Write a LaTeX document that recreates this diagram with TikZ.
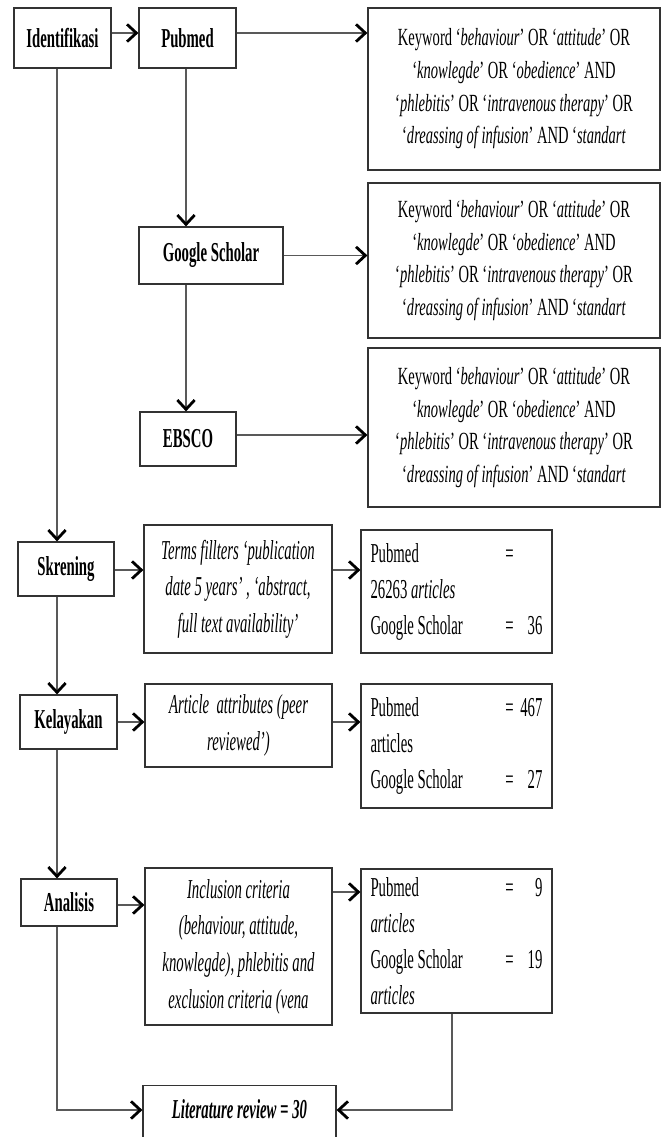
\documentclass[tikz,border=0pt]{standalone}
\usepackage{fontspec}
\setmainfont{Liberation Serif}[FakeStretch=0.54]
\newfontfamily\kwfont{Liberation Serif}[FakeStretch=0.59]
\usetikzlibrary{arrows.meta,calc}
\newcommand{\resline}[2]{\makebox[100.25pt][l]{#1}\makebox[8pt]{=}\hfill #2}
\begin{document}
\begin{tikzpicture}[x=0.75pt,y=-0.75pt,
  box/.style={draw=black!80, line width=0.9pt, inner sep=0pt, align=flush center},
  lbl/.style={box, font=\fontsize{20.5}{24}\selectfont\bfseries},
  kw/.style={box, font=\kwfont\fontsize{18.5}{24.5}\selectfont, minimum width=219pt},
  crit/.style={box, font=\fontsize{20.5}{27.5}\selectfont\itshape, minimum width=140.25pt},
  res/.style={box, font=\fontsize{20.5}{27}\selectfont, minimum width=143.25pt, text width=129pt, align=flush left},
  ln/.style={draw=black!65, line width=0.9pt},
  arr/.style={ln, -{Straight Barb[length=7pt,width=13pt,line width=2.1pt,color=black]}}]
\useasboundingbox (0,0) rectangle (664,1137);

% left column
\node[lbl, minimum width=72.75pt, minimum height=45pt] (iden) at (62.5,38) {Identifikasi};
\node[lbl, minimum width=72pt, minimum height=40.5pt] (skr) at (66,569) {Skrening};
\node[lbl, minimum width=72.75pt, minimum height=40.5pt] (kel) at (68.5,722) {Kelayakan};
\node[lbl, minimum width=72pt, minimum height=35.25pt] (ana) at (69,902.5) {Analisis};

% databases
\node[lbl, minimum width=72.75pt, minimum height=45pt] (pub) at (187.5,38) {Pubmed};
\node[lbl, minimum width=108pt, minimum height=42.75pt] (gs) at (211,255.5) {Google Scholar};
\node[lbl, minimum width=72pt, minimum height=40.5pt] (eb) at (188,439) {EBSCO};

% keyword boxes
\node[kw, minimum height=121.5pt] (kw1) at (514,89) {Keyword ‘\textit{behaviour}’ OR ‘\textit{attitude}’ OR\\ ‘\textit{knowlegde}’ OR ‘\textit{obedience}’ AND\\ ‘\textit{phlebitis}’ OR ‘\textit{intravenous therapy}’ OR\\ ‘\textit{dreassing of infusion}’ AND ‘\textit{standart}};
\node[kw, minimum height=116.25pt] (kw2) at (514,260.5) {Keyword ‘\textit{behaviour}’ OR ‘\textit{attitude}’ OR\\ ‘\textit{knowlegde}’ OR ‘\textit{obedience}’ AND\\ ‘\textit{phlebitis}’ OR ‘\textit{intravenous therapy}’ OR\\ ‘\textit{dreassing of infusion}’ AND ‘\textit{standart}};
\node[kw, minimum height=119.25pt] (kw3) at (514,427.5) {Keyword ‘\textit{behaviour}’ OR ‘\textit{attitude}’ OR\\ ‘\textit{knowlegde}’ OR ‘\textit{obedience}’ AND\\ ‘\textit{phlebitis}’ OR ‘\textit{intravenous therapy}’ OR\\ ‘\textit{dreassing of infusion}’ AND ‘\textit{standart}};

% criteria
\node[crit, minimum width=141pt, minimum height=96pt] (terms) at (238,589) {Terms fillters ‘publication\\ date 5 years’ , ‘abstract,\\ full text availability’};
\node[crit, minimum height=62.25pt] (art) at (238.5,725.5) {Article\ \ attributes (peer\\ reviewed’)};
\node[crit, minimum height=117.75pt] (inc) at (238.5,946.5) {Inclusion criteria\\ (behaviour, attitude,\\ knowlegde), phlebitis and\\ exclusion criteria (vena};

% results
\node[res, minimum height=92.25pt] (res1) at (456.5,591.5) {\resline{Pubmed}{}\\ 26263 \textit{articles}\\ \resline{Google Scholar}{36}};
\node[res, minimum height=93pt] (res2) at (456.5,746) {\resline{Pubmed}{467}\\ articles\\ \resline{Google Scholar}{27}};
\node[res, minimum height=108pt] (res3) at (456.5,941) {\resline{Pubmed}{9}\\ \textit{articles}\\ \resline{Google Scholar}{19}\\ \textit{articles}};

% final
\node[box, anchor=north, font=\fontsize{20.5}{24}\selectfont\bfseries\itshape, minimum width=144.75pt, text height=24.75pt, text depth=24pt] (lit) at (239.5,1085) {Literature review = 30};

% helper coordinates
\coordinate (h1) at (0,33);
\coordinate (h3) at (0,435);
\coordinate (h4) at (0,570);
\coordinate (h5) at (0,722);
\coordinate (h6) at (0,905);
\coordinate (h7) at (0,892);
\coordinate (h8) at (0,1110);
\coordinate (v1) at (186,0);
\coordinate (vL) at (57,0);
\coordinate (vR) at (452,0);

% connectors
\draw[arr] (iden.east |- h1) -- (pub.west |- h1);
\draw[arr] (pub.east |- h1) -- (kw1.west |- h1);
\draw[arr] (pub.south -| v1) -- (gs.north -| v1);
\draw[arr] (gs.south -| v1) -- (eb.north -| v1);
\draw[arr] (gs.east) -- (kw2.west |- gs.east);
\draw[arr] (eb.east |- h3) -- (kw3.west |- h3);
\draw[arr] (iden.south -| vL) -- (skr.north -| vL);
\draw[arr] (skr.east |- h4) -- (terms.west |- h4);
\draw[arr] (terms.east |- h4) -- (res1.west |- h4);
\draw[arr] (skr.south -| vL) -- (kel.north -| vL);
\draw[arr] (kel.east |- h5) -- (art.west |- h5);
\draw[arr] (art.east |- h5) -- (res2.west |- h5);
\draw[arr] (kel.south -| vL) -- (ana.north -| vL);
\draw[arr] (ana.east |- h6) -- (inc.west |- h6);
\draw[arr] (inc.east |- h7) -- (res3.west |- h7);
\draw[arr] (ana.south -| vL) -- (vL |- h8) -- (lit.west |- h8);
\draw[arr] (res3.south -| vR) -- (vR |- h8) -- (lit.east |- h8);
\end{tikzpicture}
\end{document}
